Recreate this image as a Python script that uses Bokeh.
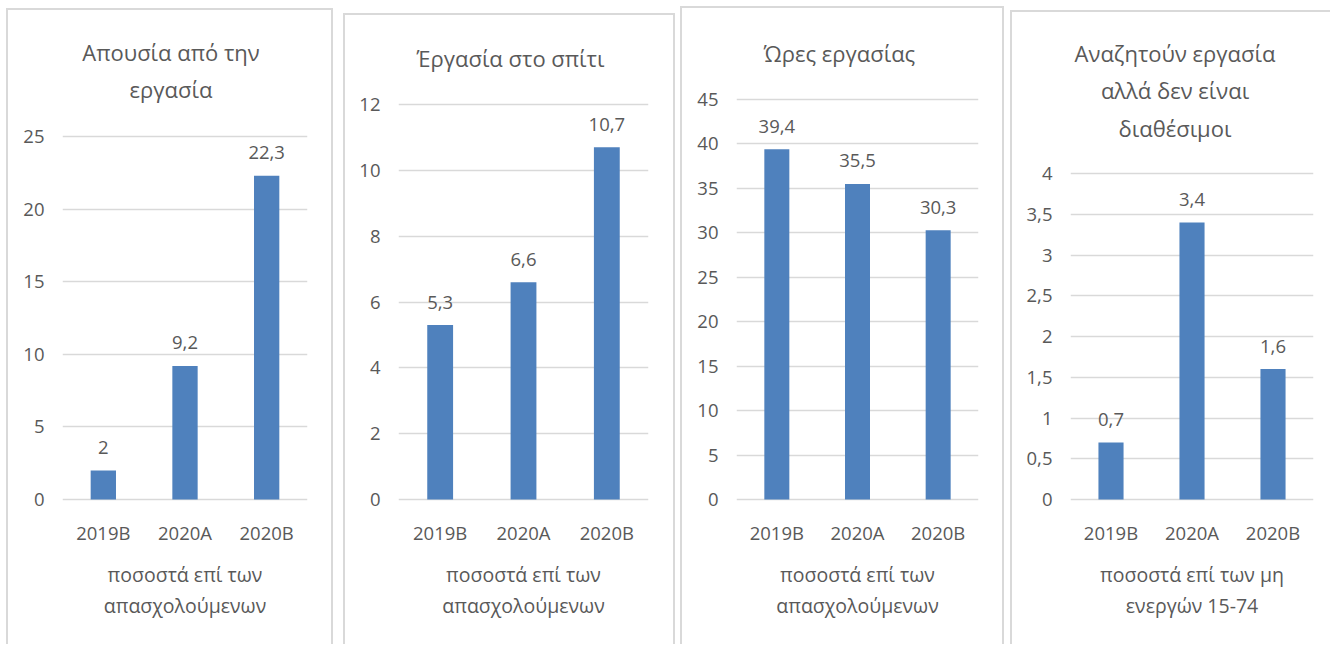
from bokeh.plotting import figure
from bokeh.models import FixedTicker, CustomJSTickFormatter, ColumnDataSource, Range1d
from bokeh.layouts import row
from bokeh.embed import file_html
from bokeh.resources import INLINE
from bokeh.core.properties import value

# ---------------- data ----------------
categories = ["2019B", "2020A", "2020B"]

absence_values = [2, 9.2, 22.3]
home_values = [5.3, 6.6, 10.7]
hours_values = [39.4, 35.5, 30.3]
seeking_values = [0.7, 3.4, 1.6]

absence_ticks = [0, 5, 10, 15, 20, 25]
home_ticks = [0, 2, 4, 6, 8, 10, 12]
hours_ticks = [0, 5, 10, 15, 20, 25, 30, 35, 40, 45]
seeking_ticks = [0, 0.5, 1, 1.5, 2, 2.5, 3, 3.5, 4]

absence_title = ["Απουσία από την", "εργασία"]
home_title = ["Έργασία στο σπίτι"]
hours_title = ["Ώρες εργασίας"]
seeking_title = ["Αναζητούν εργασία", "αλλά δεν είναι", "διαθέσιμοι"]

employed_label = ["ποσοστά επί των", "απασχολούμενων"]
inactive_label = ["ποσοστά επί των μη", "ενεργών 15-74"]

# ---------------- style / layout ----------------
FONT = "Open Sans"
TEXT = "#595959"
GRID = "#d9d9d9"
BAR = "#4f81bd"
BORDER = "#d9d9d9"
PAGE_BOTTOM = 644      # bottom edge of every panel (page px)
ZERO_PX = 499          # page y of the value-0 gridline
LINE_STEP = 37.5       # title line spacing
XLAB_Y = [574, 605]    # page y of the x-axis title lines


def fmt(v):
    return ("%g" % v).replace(".", ",")


def make_panel(values, ticks, title_lines, xlabel_lines, fig_left, fig_top, fig_right,
               margin_left, frame_left, frame_right, top_px, title_dx, title_y, shadow):
    width = fig_right - fig_left
    height = PAGE_BOTTOM - fig_top
    k = (ZERO_PX - top_px) / ticks[-1]
    y0 = -(PAGE_BOTTOM - ZERO_PX) / k
    y1 = ticks[-1] + (top_px - fig_top) / k

    p = figure(x_range=categories, y_range=Range1d(y0, y1),
               width=width, height=height, title=None,
               toolbar_location=None, output_backend="svg",
               min_border_left=frame_left - fig_left,
               min_border_right=fig_right - frame_right,
               min_border_top=0, min_border_bottom=0,
               margin=(fig_top, 0, 0, margin_left),
               styles={"box-shadow": shadow},
               outline_line_color=None, background_fill_color="white",
               border_fill_color="white")

    src = ColumnDataSource(dict(cat=categories, val=values,
                                txt=[fmt(v) for v in values]))
    p.vbar(x="cat", top="val", width=0.31, source=src,
           fill_color=BAR, line_color=None)
    p.text(x="cat", y="val", text="txt", source=src,
           text_font=value(FONT), text_font_size="18.5px", text_color=TEXT,
           text_align="center", text_baseline="middle", y_offset=-23)

    mid = categories[len(categories) // 2]
    tsrc = ColumnDataSource(dict(
        x=[mid] * len(title_lines), y=[0] * len(title_lines), text=title_lines,
        yoff=[-(ZERO_PX - (title_y + LINE_STEP * i)) for i in range(len(title_lines))]))
    p.text(x="x", y="y", text="text", source=tsrc, x_offset=title_dx, y_offset="yoff",
           text_font=value(FONT), text_font_size="22px", text_color=TEXT,
           text_align="center", text_baseline="middle")

    xsrc = ColumnDataSource(dict(
        x=[mid] * len(xlabel_lines), y=[0] * len(xlabel_lines), text=xlabel_lines,
        yoff=[XLAB_Y[i] - ZERO_PX for i in range(len(xlabel_lines))]))
    p.text(x="x", y="y", text="text", source=xsrc, y_offset="yoff",
           text_font=value(FONT), text_font_size="19.5px", text_color=TEXT,
           text_align="center", text_baseline="middle")

    # y axis
    p.yaxis.ticker = FixedTicker(ticks=ticks)
    p.yaxis.formatter = CustomJSTickFormatter(code="return tick.toString().replace('.', ',');")
    p.yaxis.axis_line_color = None
    p.yaxis.major_tick_line_color = None
    p.yaxis.minor_tick_line_color = None
    p.yaxis.major_tick_out = 0
    p.yaxis.major_tick_in = 0
    p.yaxis.major_label_standoff = 18
    p.yaxis.major_label_text_font = FONT
    p.yaxis.major_label_text_font_size = "18.5px"
    p.yaxis.major_label_text_color = TEXT

    # x axis, pinned at value 0
    p.xaxis.fixed_location = 0
    p.xaxis.axis_line_color = None
    p.xaxis.major_tick_line_color = None
    p.xaxis.minor_tick_line_color = None
    p.xaxis.major_tick_out = 0
    p.xaxis.major_tick_in = 0
    p.xaxis.major_label_standoff = 20
    p.xaxis.major_label_text_font = FONT
    p.xaxis.major_label_text_font_size = "18.5px"
    p.xaxis.major_label_text_color = TEXT

    p.xgrid.grid_line_color = None
    p.ygrid.ticker = FixedTicker(ticks=ticks)
    p.ygrid.grid_line_color = GRID
    p.ygrid.grid_line_width = 1.5
    return p


sh3 = "-2px 0 0 %s, 2px 0 0 %s, 0 -2px 0 %s, -2px -2px 0 %s, 2px -2px 0 %s" % ((BORDER,) * 5)
sh2 = "-2px 0 0 %s, 0 -2px 0 %s, -2px -2px 0 %s" % ((BORDER,) * 3)

p1 = make_panel(absence_values, absence_ticks, absence_title, employed_label,
                8, 10, 331, 8, 62, 307, 136, -14, 51, sh3)
p2 = make_panel(home_values, home_ticks, home_title, employed_label,
                345, 15, 673, 14, 398, 648, 104, -13, 57, sh3)
p3 = make_panel(hours_values, hours_ticks, hours_title, employed_label,
                682, 8, 1002, 9, 736, 978, 99, -18, 52, sh3)
p4 = make_panel(seeking_values, seeking_ticks, seeking_title, inactive_label,
                1012, 12, 1330, 10, 1070, 1313, 173, -17, 52, sh2)

layout = row(p1, p2, p3, p4)

open("out.html", "w").write(file_html(layout, INLINE))
